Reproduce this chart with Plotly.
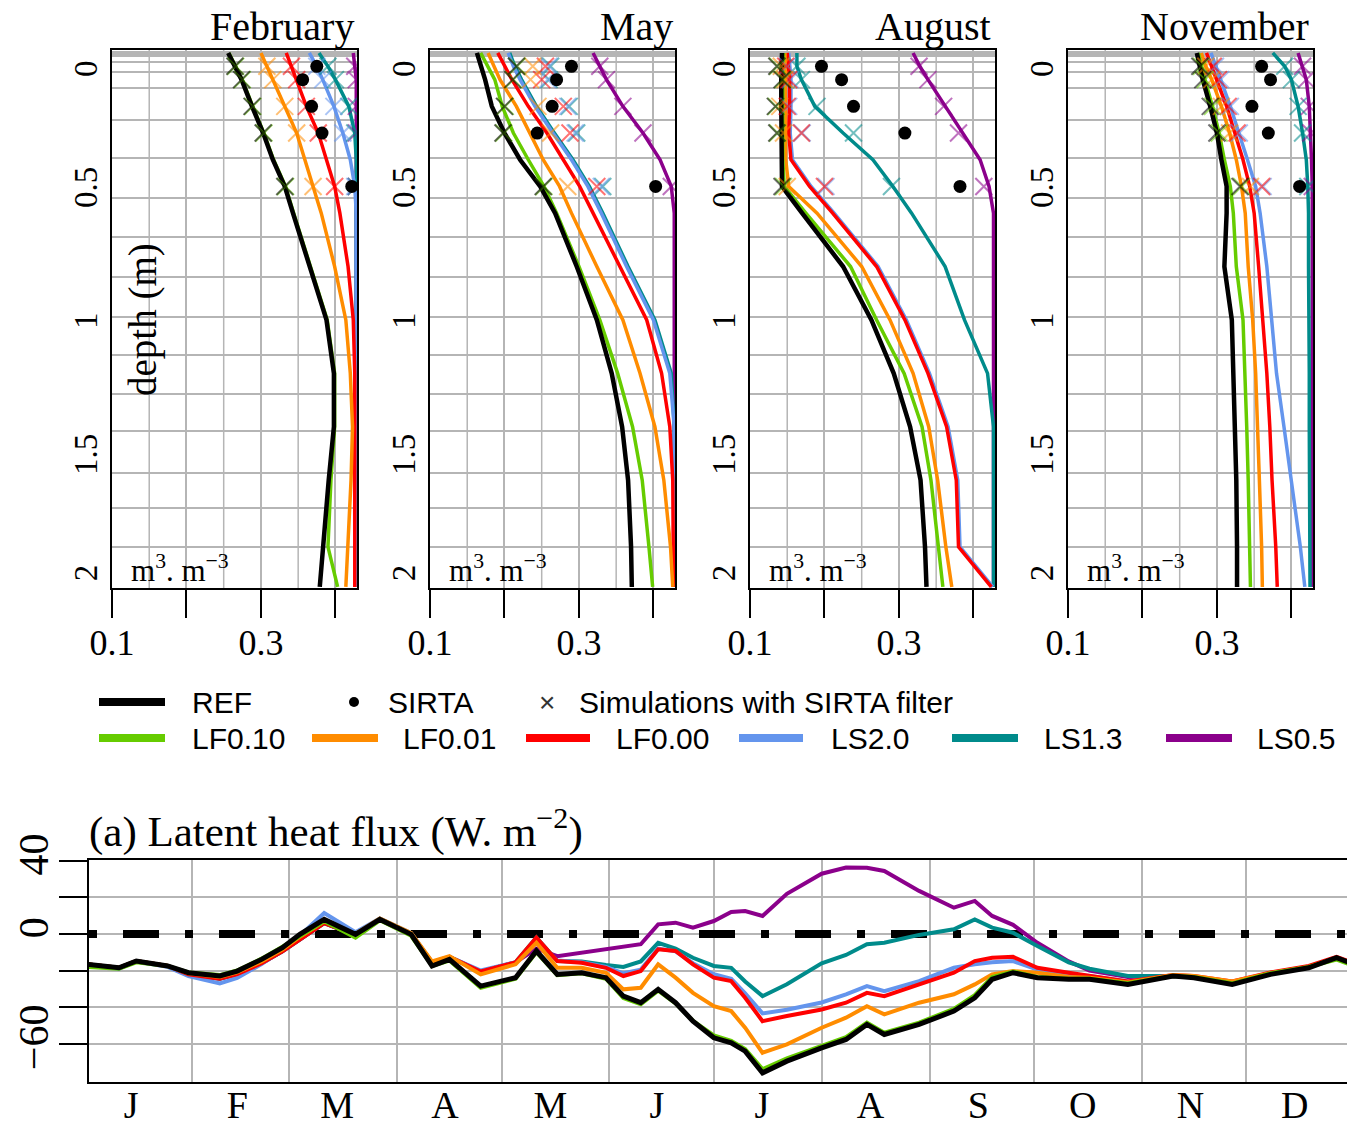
import plotly.graph_objects as go

W, H = 1347, 1127

# ---------------- data: soil moisture profiles (m3/m3) ----------------
DEPTHS = [0, 0.05, 0.1, 0.2, 0.3, 0.4, 0.5, 0.6, 0.8, 1.0, 1.2, 1.4, 1.6, 1.85, 2.0]
SIRTA_DEPTHS = [0.05, 0.1, 0.2, 0.3, 0.5]
PANEL_MONTHS = ["February", "May", "August", "November"]

REF_PROF = [
    [0.256, 0.265, 0.274, 0.288, 0.303, 0.316, 0.332, 0.343, 0.366, 0.388, 0.398, 0.398, 0.391, 0.383, 0.379],
    [0.163, 0.169, 0.174, 0.183, 0.200, 0.221, 0.248, 0.268, 0.297, 0.324, 0.344, 0.358, 0.366, 0.370, 0.371],
    [0.143, 0.142, 0.142, 0.142, 0.142, 0.142, 0.143, 0.170, 0.225, 0.263, 0.293, 0.315, 0.329, 0.335, 0.337],
    [0.273, 0.277, 0.281, 0.291, 0.300, 0.306, 0.313, 0.313, 0.310, 0.320, 0.322, 0.325, 0.326, 0.327, 0.327],
]
LF010_PROF = [
    [0.257, 0.266, 0.275, 0.289, 0.304, 0.317, 0.333, 0.344, 0.367, 0.389, 0.399, 0.399, 0.394, 0.390, 0.403],
    [0.168, 0.178, 0.187, 0.197, 0.212, 0.232, 0.253, 0.270, 0.300, 0.328, 0.352, 0.372, 0.385, 0.394, 0.399],
    [0.145, 0.144, 0.144, 0.144, 0.144, 0.144, 0.146, 0.175, 0.235, 0.270, 0.307, 0.331, 0.343, 0.353, 0.359],
    [0.275, 0.279, 0.284, 0.294, 0.303, 0.310, 0.318, 0.322, 0.326, 0.335, 0.338, 0.340, 0.342, 0.344, 0.345],
]
LF001_PROF = [
    [0.300, 0.308, 0.316, 0.332, 0.348, 0.359, 0.370, 0.381, 0.399, 0.414, 0.420, 0.423, 0.421, 0.417, 0.414],
    [0.178, 0.186, 0.194, 0.216, 0.234, 0.252, 0.274, 0.290, 0.324, 0.359, 0.382, 0.402, 0.414, 0.423, 0.426],
    [0.147, 0.147, 0.147, 0.147, 0.147, 0.148, 0.152, 0.190, 0.250, 0.288, 0.319, 0.340, 0.352, 0.363, 0.371],
    [0.279, 0.285, 0.293, 0.306, 0.317, 0.326, 0.333, 0.338, 0.342, 0.348, 0.352, 0.355, 0.357, 0.360, 0.361],
]
LF000_PROF = [
    [0.334, 0.341, 0.348, 0.361, 0.377, 0.388, 0.399, 0.406, 0.417, 0.424, 0.426, 0.426, 0.426, 0.426, 0.426],
    [0.191, 0.200, 0.210, 0.232, 0.257, 0.279, 0.301, 0.319, 0.355, 0.391, 0.411, 0.422, 0.426, 0.427, 0.427],
    [0.150, 0.152, 0.153, 0.153, 0.152, 0.155, 0.180, 0.211, 0.270, 0.308, 0.339, 0.364, 0.377, 0.380, 0.424],
    [0.286, 0.293, 0.300, 0.313, 0.324, 0.335, 0.344, 0.350, 0.356, 0.362, 0.367, 0.371, 0.374, 0.379, 0.381],
]
LS20_PROF = [
    [0.365, 0.375, 0.383, 0.398, 0.410, 0.420, 0.426, 0.428, 0.428, 0.428, 0.428, 0.428, 0.428, 0.428, 0.428],
    [0.205, 0.212, 0.221, 0.241, 0.265, 0.290, 0.312, 0.330, 0.364, 0.400, 0.422, 0.428, 0.428, 0.428, 0.428],
    [0.152, 0.154, 0.155, 0.155, 0.154, 0.157, 0.182, 0.213, 0.272, 0.310, 0.341, 0.366, 0.379, 0.382, 0.426],
    [0.292, 0.298, 0.305, 0.318, 0.330, 0.341, 0.352, 0.358, 0.367, 0.373, 0.380, 0.390, 0.400, 0.412, 0.418],
]
LS13_PROF = [
    [0.378, 0.390, 0.400, 0.418, 0.426, 0.428, 0.428, 0.428, 0.428, 0.428, 0.428, 0.428, 0.428, 0.428, 0.428],
    [0.207, 0.214, 0.223, 0.243, 0.267, 0.292, 0.314, 0.332, 0.366, 0.402, 0.424, 0.428, 0.428, 0.428, 0.428],
    [0.163, 0.163, 0.169, 0.187, 0.225, 0.265, 0.292, 0.317, 0.362, 0.388, 0.419, 0.427, 0.427, 0.427, 0.427],
    [0.375, 0.391, 0.400, 0.409, 0.415, 0.420, 0.422, 0.423, 0.423, 0.424, 0.424, 0.424, 0.424, 0.425, 0.425],
]
LS05_PROF = [
    [0.424, 0.426, 0.428, 0.428, 0.428, 0.428, 0.428, 0.428, 0.428, 0.428, 0.428, 0.428, 0.428, 0.428, 0.428],
    [0.319, 0.328, 0.337, 0.359, 0.386, 0.409, 0.424, 0.428, 0.428, 0.428, 0.428, 0.428, 0.428, 0.428, 0.428],
    [0.319, 0.328, 0.339, 0.362, 0.385, 0.409, 0.421, 0.427, 0.427, 0.427, 0.427, 0.427, 0.427, 0.427, 0.427],
    [0.409, 0.415, 0.420, 0.424, 0.426, 0.427, 0.428, 0.428, 0.428, 0.428, 0.428, 0.428, 0.428, 0.428, 0.428],
]

# simulations with SIRTA filter (crosses) at SIRTA depths
REF_XSIM = [[0.265, 0.274, 0.288, 0.303, 0.332], [0.216, 0.211, 0.200, 0.198, 0.252],
            [0.136, 0.143, 0.134, 0.136, 0.143], [0.277, 0.281, 0.291, 0.300, 0.331]]
LF010_XSIM = [[0.266, 0.275, 0.289, 0.304, 0.333], [0.217, 0.212, 0.201, 0.199, 0.253],
              [0.137, 0.144, 0.135, 0.137, 0.145], [0.279, 0.284, 0.294, 0.303, 0.333]]
LF001_XSIM = [[0.308, 0.316, 0.332, 0.348, 0.370], [0.238, 0.235, 0.245, 0.262, 0.285],
              [0.142, 0.147, 0.140, 0.145, 0.150], [0.285, 0.293, 0.306, 0.317, 0.345]]
LF000_XSIM = [[0.341, 0.348, 0.361, 0.377, 0.399], [0.255, 0.250, 0.279, 0.288, 0.324],
              [0.148, 0.152, 0.150, 0.169, 0.200], [0.295, 0.302, 0.315, 0.327, 0.360]]
LS20_XSIM = [[0.375, 0.383, 0.398, 0.410, 0.426], [0.260, 0.258, 0.285, 0.295, 0.330],
             [0.150, 0.154, 0.152, 0.170, 0.202], [0.298, 0.305, 0.318, 0.330, 0.362]]
LS13_XSIM = [[0.390, 0.400, 0.418, 0.426, 0.428], [0.262, 0.260, 0.287, 0.297, 0.332],
             [0.163, 0.169, 0.190, 0.239, 0.290], [0.391, 0.400, 0.409, 0.415, 0.422]]
LS05_XSIM = [[0.426, 0.428, 0.428, 0.428, 0.428], [0.328, 0.337, 0.359, 0.386, 0.424],
             [0.327, 0.339, 0.360, 0.380, 0.414], [0.415, 0.420, 0.424, 0.426, 0.428]]

SIRTA_OBS = [[0.375, 0.356, 0.368, 0.382, 0.422], [0.290, 0.270, 0.264, 0.244, 0.403],
             [0.196, 0.223, 0.239, 0.308, 0.382], [0.360, 0.372, 0.347, 0.369, 0.411]]

SM_LABEL_TICKS = [0.1, 0.3]
SM_OTHER_TICKS = [0.2, 0.4]
SM_GRID_EXTRA = [0.15, 0.25, 0.35]
DEPTH_LABEL_POS = [0.078, 0.522, 1.022, 1.522, 1.966]
DEPTH_LABELS = ["0", "0.5", "1", "1.5", "2"]

# ---------------- data: latent heat flux (W m-2) ----------------
DAYS = [1, 10, 15, 24, 30, 39, 44, 51, 57, 62, 69, 78, 85, 94, 100, 105, 114, 124, 130, 136,
        143, 150, 155, 160, 165, 170, 175, 181, 186, 190, 195, 202, 212, 219, 225, 230, 240, 250,
        256, 261, 267, 274, 283, 289, 300, 313, 319, 330, 341, 352, 360, 365]
LE_REF = [-16.6, -18.5, -14.8, -17.5, -21.2, -23.0, -20.3, -13.9, -7.5, -0.2, 8.0, -0.2, 8.0, -0.2,
          -17.5, -13.9, -28.5, -23.9, -9.3, -22.1, -21.2, -23.9, -34.0, -37.6, -30.3, -37.6, -47.7,
          -56.8, -59.6, -64.1, -76.0, -69.6, -62.3, -57.7, -49.5, -55.0, -49.5, -42.2, -34.9, -24.8,
          -21.2, -23.9, -24.8, -24.8, -27.6, -23.0, -23.9, -27.6, -22.1, -18.5, -13.0, -16.6]
LE_LF010 = [-18.0, -19.0, -15.5, -17.5, -21.0, -22.5, -20.0, -13.5, -7.0, -1.0, 7.0, -2.0, 7.5, -1.0,
            -17.5, -14.5, -29.5, -24.5, -10.0, -22.5, -21.5, -24.5, -35.0, -38.5, -31.0, -38.0, -47.5,
            -55.5, -58.5, -63.0, -74.0, -68.0, -61.0, -56.5, -48.5, -54.0, -48.5, -41.0, -33.5, -23.5,
            -20.5, -23.5, -24.5, -24.5, -27.0, -23.0, -23.5, -27.0, -21.5, -18.0, -14.0, -17.5]
LE_LF001 = [-16.6, -18.5, -14.8, -17.5, -21.5, -23.5, -21.0, -15.0, -8.5, -1.5, 7.0, 0.0, 8.5, 0.5,
            -15.0, -12.1, -22.1, -16.6, -4.8, -18.5, -18.5, -21.2, -30.3, -29.4, -16.6, -23.9, -32.2,
            -39.5, -42.2, -51.3, -65.0, -60.4, -51.3, -45.8, -39.5, -44.0, -37.6, -33.0, -27.6, -22.1,
            -20.3, -21.2, -23.5, -24.0, -26.5, -22.5, -23.0, -26.0, -21.5, -18.0, -13.0, -16.6]
LE_LF000 = [-16.6, -18.5, -14.8, -17.5, -22.0, -24.5, -22.0, -16.0, -9.5, -3.0, 6.0, -0.5, 8.0, 0.0,
            -15.5, -12.5, -20.5, -15.5, -2.0, -14.8, -15.7, -18.5, -23.0, -20.3, -8.4, -9.3, -16.6,
            -23.9, -25.8, -34.9, -47.7, -44.9, -41.3, -37.6, -32.2, -34.0, -27.6, -21.2, -14.8, -13.0,
            -12.5, -18.5, -21.2, -23.0, -26.0, -22.5, -23.0, -26.0, -21.0, -17.5, -12.5, -16.0]
LE_LS20 = [-17.0, -19.0, -15.0, -18.0, -23.0, -27.0, -24.0, -16.5, -9.0, -1.0, 11.5, 1.0, 8.5, 0.5,
           -15.5, -12.5, -20.0, -15.5, -5.0, -14.5, -15.5, -18.0, -21.5, -19.5, -8.0, -9.5, -16.0,
           -22.0, -24.5, -32.5, -43.5, -41.5, -37.5, -33.0, -28.5, -31.3, -25.8, -18.5, -16.6, -15.5,
           -14.8, -19.4, -22.0, -23.0, -26.0, -23.0, -23.5, -26.5, -21.5, -18.0, -13.0, -16.6]
LE_LS13 = [-16.6, -18.5, -14.8, -17.5, -22.0, -24.5, -22.0, -16.0, -9.5, -3.0, 6.0, -0.5, 8.0, 0.0,
           -15.5, -12.5, -20.5, -15.5, -2.0, -14.8, -15.0, -17.0, -18.0, -15.0, -4.8, -8.0, -13.0,
           -17.5, -18.5, -26.0, -34.0, -27.5, -16.0, -11.5, -5.6, -4.8, -0.5, 2.6, 8.0, 3.5,
           0.7, -6.6, -15.5, -19.0, -23.0, -23.0, -23.5, -26.5, -21.5, -18.0, -13.0, -16.6]
LE_LS05 = [-16.6, -18.5, -14.8, -17.5, -22.0, -24.5, -22.0, -16.0, -9.5, -3.0, 6.0, -0.5, 8.0, 0.0,
           -15.5, -12.5, -20.5, -15.5, -8.0, -12.1, -10.2, -8.4, -7.5, -5.6, 5.3, 6.2, 3.5,
           7.1, 12.0, 12.6, 9.9, 22.0, 33.0, 36.4, 36.3, 34.5, 23.6, 14.4, 18.1, 9.9,
           5.0, -4.8, -15.0, -20.0, -23.5, -23.0, -23.5, -26.5, -21.5, -18.0, -13.0, -16.6]

MONTH_MID = [13.5, 44, 72.7, 103.7, 134, 164.6, 194.8, 226, 257, 287, 318, 348]
MONTH_LABELS = ["J", "F", "M", "A", "M", "J", "J", "A", "S", "O", "N", "D"]
MONTH_BOUNDS = [31, 59, 90, 120, 151, 181, 212, 243, 273, 304, 334]
LE_LABEL_TICKS = [40, 0, -60]
LE_LABEL_TEXT = ["40", "0", "\u221260"]
LE_OTHER_TICKS = [20, -20, -40]
ZERO_REF = 0
DAY_RANGE = [1.4, 363]

SERIES = [  # drawn in this order (REF on top)
    ("LS0.5", "#8B008B", LS05_PROF, LS05_XSIM, LE_LS05),
    ("LS1.3", "#008B8B", LS13_PROF, LS13_XSIM, LE_LS13),
    ("LS2.0", "#6495ED", LS20_PROF, LS20_XSIM, LE_LS20),
    ("LF0.00", "#FF0000", LF000_PROF, LF000_XSIM, LE_LF000),
    ("LF0.01", "#FF8C00", LF001_PROF, LF001_XSIM, LE_LF001),
    ("LF0.10", "#66CC00", LF010_PROF, LF010_XSIM, LE_LF010),
    ("REF", "#000000", REF_PROF, REF_XSIM, LE_REF),
]

SERIF = "Liberation Serif"
SANS = "Liberation Sans"
GRID = "#b5b5b5"


def px(x):
    return x / W


def py(y):
    return 1 - y / H


fig = go.Figure()
shapes = []
annotations = []

PANEL_LEFT = [112, 430, 750, 1068]
PANEL_W = 245
TOP_Y0, TOP_Y1 = 50, 588
GRID_DEPTHS = [-0.004, 0.004, 0.011, 0.034, 0.071, 0.131, 0.251, 0.393, 0.543, 0.689, 0.839,
               0.989, 1.131, 1.277, 1.416, 1.573, 1.704, 1.850]

layout_axes = {}
for i in range(4):
    ax = "" if i == 0 else str(i + 1)
    xa, ya = "x" + ax, "y" + ax
    for name, color, prof, xs, _ in SERIES:
        fig.add_trace(go.Scatter(x=prof[i], y=DEPTHS, mode="lines", xaxis=xa, yaxis=ya,
                                 line=dict(color=color, width=4.5 if name == "REF" else 3.5),
                                 showlegend=False, hoverinfo="skip"))
    for name, color, prof, xs, _ in SERIES:
        fig.add_trace(go.Scatter(x=xs[i], y=SIRTA_DEPTHS, mode="markers", xaxis=xa, yaxis=ya,
                                 marker=dict(symbol="x-thin", size=17,
                                             line=dict(color=color, width=2)),
                                 opacity=0.55, showlegend=False, hoverinfo="skip"))
    fig.add_trace(go.Scatter(x=SIRTA_OBS[i], y=SIRTA_DEPTHS, mode="markers", xaxis=xa, yaxis=ya,
                             marker=dict(symbol="circle", size=13, color="black"),
                             showlegend=False, hoverinfo="skip"))
    L = PANEL_LEFT[i]
    layout_axes["xaxis" + ax] = dict(
        domain=[px(L), px(L + PANEL_W)], range=[0.1, 0.429], anchor=ya, automargin=False,
        showline=True, mirror=True, linecolor="black", linewidth=2,
        ticks="outside", ticklen=28, tickwidth=2, tickcolor="black",
        tickvals=SM_LABEL_TICKS, ticktext=[str(v) for v in SM_LABEL_TICKS],
        tickfont=dict(family=SERIF, size=36, color="black"), ticklabelstandoff=-6,
        showgrid=True, gridcolor=GRID, gridwidth=1.5, zeroline=False,
        minor=dict(tickvals=SM_OTHER_TICKS, showgrid=True, gridcolor=GRID, gridwidth=1.5,
                   ticks="outside", ticklen=28, tickwidth=2, tickcolor="black"),
    )
    layout_axes["yaxis" + ax] = dict(
        domain=[py(TOP_Y1), py(TOP_Y0)], range=[2.004, -0.011], anchor=xa, automargin=False,
        showline=True, mirror=True, linecolor="black", linewidth=2,
        ticks="", tickvals=DEPTH_LABEL_POS, ticktext=DEPTH_LABELS,
        tickangle=-90, tickfont=dict(family=SERIF, size=33, color="black"), ticklabelstandoff=0,
        showgrid=False, zeroline=False,
        minor=dict(tickvals=GRID_DEPTHS, showgrid=True, gridcolor=GRID, gridwidth=1.5, ticks=""),
    )
    for g in SM_GRID_EXTRA:
        shapes.append(dict(type="line", xref=xa, yref=ya + " domain", x0=g, x1=g, y0=0, y1=1,
                           layer="below", line=dict(color=GRID, width=1.5)))

# ---------------- bottom: latent heat flux ----------------
fig.add_trace(go.Scatter(x=DAY_RANGE, y=[ZERO_REF, ZERO_REF], mode="lines", xaxis="x5", yaxis="y5",
                         line=dict(color="black", width=8, dash="8px,26px,36px,26px"),
                         showlegend=False, hoverinfo="skip"))
for name, color, prof, xs, le in SERIES:
    fig.add_trace(go.Scatter(x=DAYS, y=le, mode="lines", xaxis="x5", yaxis="y5",
                             line=dict(color=color, width=5 if name == "REF" else 4),
                             showlegend=False, hoverinfo="skip"))

layout_axes["xaxis5"] = dict(
    domain=[px(89), 1.0], range=DAY_RANGE, anchor="y5", automargin=False,
    showline=True, mirror=True, linecolor="black", linewidth=2,
    ticks="", tickvals=MONTH_MID, ticktext=MONTH_LABELS,
    tickfont=dict(family=SERIF, size=38, color="black"), ticklabelstandoff=-12,
    showgrid=False, zeroline=False,
    minor=dict(tickvals=MONTH_BOUNDS, showgrid=True, gridcolor=GRID, gridwidth=1.5, ticks=""),
)
layout_axes["yaxis5"] = dict(
    domain=[py(1082), py(860)], range=[-81, 40.5], anchor="x5", automargin=False,
    showline=True, mirror=False, linecolor="black", linewidth=2,
    ticks="outside", ticklen=28, tickwidth=2, tickcolor="black",
    tickvals=LE_LABEL_TICKS, ticktext=LE_LABEL_TEXT, tickangle=-90,
    tickfont=dict(family=SERIF, size=42, color="black"), ticklabelstandoff=-6,
    showgrid=True, gridcolor=GRID, gridwidth=1.5, zeroline=False,
    minor=dict(tickvals=LE_OTHER_TICKS, showgrid=True, gridcolor=GRID, gridwidth=1.5,
               ticks="outside", ticklen=28, tickwidth=2, tickcolor="black"),
)

TITLE_RIGHT = [356, 675, 993, 1311]
for i, m in enumerate(PANEL_MONTHS):
    annotations.append(dict(text=m, x=px(TITLE_RIGHT[i]), y=py(27), xref="paper", yref="paper",
                            xanchor="right", yanchor="middle", showarrow=False,
                            font=dict(family=SERIF, size=40, color="black")))
    annotations.append(dict(text="m<sup>3</sup>. m<sup>\u22123</sup>", x=px(PANEL_LEFT[i] + 17), y=py(568),
                            xref="paper", yref="paper", xanchor="left", yanchor="middle",
                            showarrow=False, font=dict(family=SERIF, size=31, color="black")))
annotations.append(dict(text="depth (m)", x=px(143), y=py(320), xref="paper", yref="paper",
                        textangle=-90, xanchor="center", yanchor="middle", showarrow=False,
                        font=dict(family=SERIF, size=39, color="black")))
annotations.append(dict(text="(a) Latent heat flux (W. m<sup>\u22122</sup>)", x=px(87), y=py(828),
                        xref="paper", yref="paper", xanchor="left", yanchor="middle",
                        showarrow=False, font=dict(family=SERIF, size=43, color="black")))

# legend (manual)
LEG_ROW1 = 702
LEG_ROW2 = 738
legend_lines = [
    ("REF", "#000000", 99, 165, 190, LEG_ROW1),
    ("LF0.10", "#66CC00", 99, 165, 190, LEG_ROW2),
    ("LF0.01", "#FF8C00", 312, 378, 401, LEG_ROW2),
    ("LF0.00", "#FF0000", 526, 590, 614, LEG_ROW2),
    ("LS2.0", "#6495ED", 739, 803, 829, LEG_ROW2),
    ("LS1.3", "#008B8B", 952, 1018, 1042, LEG_ROW2),
    ("LS0.5", "#8B008B", 1166, 1232, 1255, LEG_ROW2),
]
for lab, col, x0, x1, xt, yr in legend_lines:
    shapes.append(dict(type="line", xref="paper", yref="paper", x0=px(x0), x1=px(x1),
                       y0=py(yr), y1=py(yr), line=dict(color=col, width=8)))
    annotations.append(dict(text=lab, x=px(xt), y=py(yr), xref="paper", yref="paper",
                            xanchor="left", yanchor="middle", showarrow=False,
                            font=dict(family=SANS, size=30, color="black")))
shapes.append(dict(type="circle", xref="paper", yref="paper", x0=px(349), x1=px(359),
                   y0=py(LEG_ROW1 + 5), y1=py(LEG_ROW1 - 5), fillcolor="black", line=dict(width=0)))
annotations.append(dict(text="SIRTA", x=px(386), y=py(LEG_ROW1), xref="paper", yref="paper",
                        xanchor="left", yanchor="middle", showarrow=False,
                        font=dict(family=SANS, size=30, color="black")))
annotations.append(dict(text="\u00d7", x=px(547), y=py(LEG_ROW1), xref="paper", yref="paper",
                        xanchor="center", yanchor="middle", showarrow=False,
                        font=dict(family=SANS, size=28, color="#333333")))
annotations.append(dict(text="Simulations with SIRTA filter", x=px(577), y=py(LEG_ROW1),
                        xref="paper", yref="paper", xanchor="left", yanchor="middle",
                        showarrow=False, font=dict(family=SANS, size=30, color="black")))

fig.update_layout(
    template="none",
    width=W, height=H, margin=dict(l=0, r=0, t=0, b=0, pad=0, autoexpand=False),
    paper_bgcolor="white", plot_bgcolor="white",
    showlegend=False, annotations=annotations, shapes=shapes,
    **layout_axes,
)

fig.write_html("out.html")
